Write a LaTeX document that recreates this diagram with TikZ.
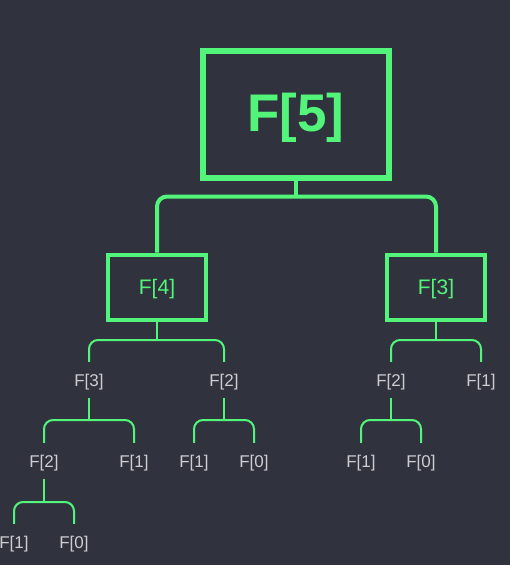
\documentclass[tikz,border=0pt]{standalone}
\usepackage{fontspec}
\setmainfont{Liberation Sans}
\definecolor{bgslate}{RGB}{48,50,61}
\definecolor{fibgreen}{RGB}{82,245,122}
\definecolor{callgray}{RGB}{205,205,210}

\begin{document}
\begin{tikzpicture}[x=1pt,y=-1pt,
	bigbox/.style={draw=fibgreen, line width=6pt, minimum width=186pt, minimum height=127pt, text=fibgreen, text height=33pt, text depth=0pt, font=\bfseries\fontsize{53}{53}\selectfont},
	midbox/.style={draw=fibgreen, line width=4pt, minimum width=98pt, minimum height=65pt, text=fibgreen, text height=15pt, text depth=0pt, font=\fontsize{21}{21}\selectfont},
	call/.style={text=callgray, minimum height=36pt, inner sep=0pt, text height=12pt, text depth=0pt, font=\fontsize{17}{17}\selectfont},
	thickbranch/.style={draw=fibgreen, line width=4pt, rounded corners=10pt},
	branch/.style={draw=fibgreen, line width=2pt, rounded corners=9pt}]
			\fill[bgslate] (0,0) rectangle (510,565);
			\useasboundingbox (0,0) rectangle (510,565);
			\node[bigbox] (f5) at (296,114.5) {F[5]};
			\node[midbox] (f4) at (157,287) {F[4]};
			\node[midbox] (f3) at (436,287) {F[3]};
			\node[call] (f4a) at (89,380) {F[3]};
			\node[call] (f4b) at (224,380) {F[2]};
			\node[call] (f4aa) at (44,461) {F[2]};
			\node[call] (f4ab) at (134,461) {F[1]};
			\node[call] (f4ba) at (194,461) {F[1]};
			\node[call] (f4bb) at (254,461) {F[0]};
			\node[call] (f4aaa) at (14,542) {F[1]};
			\node[call] (f4aab) at (74,542) {F[0]};
			\node[call] (f3a) at (391,380) {F[2]};
			\node[call] (f3b) at (481,380) {F[1]};
			\node[call] (f3aa) at (361,461) {F[1]};
			\node[call] (f3ab) at (421,461) {F[0]};
			\coordinate (j5) at (296,196.5);
			\coordinate (j4) at (157,340);
			\coordinate (j3) at (436,340);
			\coordinate (j4a) at (89,420);
			\coordinate (j4b) at (224,420);
			\coordinate (j3a) at (391,420);
			\coordinate (j4aa) at (44,502);
			\draw[thickbranch] (f5.south) -- (j5);
			\draw[thickbranch] (f4.north) |- (j5) -| (f3.north);
			\draw[branch] (f4.south) -- (j4);
			\draw[branch] (f4a.north) |- (j4) -| (f4b.north);
			\draw[branch] (f3.south) -- (j3);
			\draw[branch] (f3a.north) |- (j3) -| (f3b.north);
			\draw[branch] (f4a.south) -- (j4a);
			\draw[branch] (f4aa.north) |- (j4a) -| (f4ab.north);
			\draw[branch] (f4b.south) -- (j4b);
			\draw[branch] (f4ba.north) |- (j4b) -| (f4bb.north);
			\draw[branch] (f3a.south) -- (j3a);
			\draw[branch] (f3aa.north) |- (j3a) -| (f3ab.north);
			\draw[branch] (f4aa.south) -- (j4aa);
			\draw[branch] (f4aaa.north) |- (j4aa) -| (f4aab.north);
		\end{tikzpicture}
\end{document}
